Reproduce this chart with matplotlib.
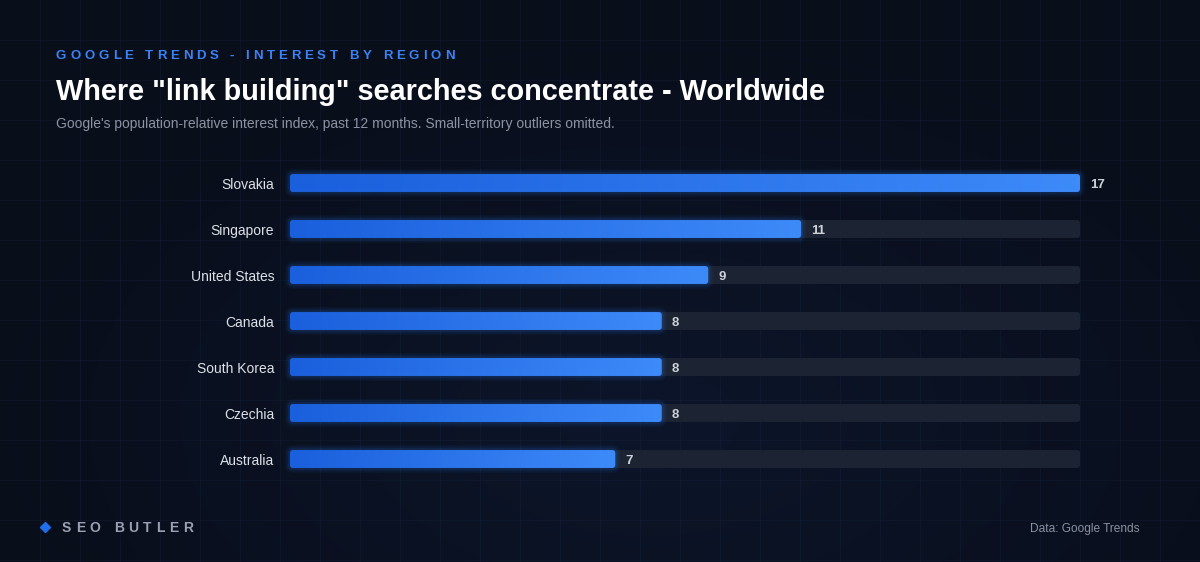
import matplotlib.pyplot as plt
import numpy as np
from matplotlib.patches import FancyBboxPatch
from matplotlib.colors import LinearSegmentedColormap

# data
regions = ["Slovakia", "Singapore", "United States", "Canada", "South Korea", "Czechia", "Australia"]
interest = [17, 11, 9, 8, 8, 8, 7]
max_val = 17

eyebrow = "GOOGLE TRENDS - INTEREST BY REGION"
title = 'Where "link building" searches concentrate - Worldwide'
subtitle = "Google's population-relative interest index, past 12 months. Small-territory outliers omitted."
brand = "SEO BUTLER"
source = "Data: Google Trends"

W, H = 1200, 562
fig = plt.figure(figsize=(W / 100, H / 100), dpi=100)
plt.rcParams['font.family'] = ['Liberation Sans', 'DejaVu Sans']

# background with faint glow and grid
bg = fig.add_axes([0, 0, 1, 1])
bg.set_xlim(0, W)
bg.set_ylim(H, 0)
bg.axis("off")
yy, xx = np.mgrid[0:H, 0:W]
d = np.sqrt(((xx - 650) / 650.0) ** 2 + ((yy - 420) / 380.0) ** 2)
glow = np.clip(1 - d, 0, 1)
base = np.array([0.035, 0.055, 0.105])
hi = np.array([0.05, 0.09, 0.18])
img = base + (hi - base) * glow[..., None] * 0.8
bg.imshow(img, extent=[0, W, H, 0], aspect="auto", zorder=0)
for gx in range(40, W, 40):
    bg.plot([gx, gx], [0, H], color="#1c2a44", lw=0.8, alpha=0.25, zorder=1)
for gy in range(40, H, 40):
    bg.plot([0, W], [gy, gy], color="#1c2a44", lw=0.8, alpha=0.25, zorder=1)


def spaced_text(ax, x, y, s, spacing, **kw):
    # draw text char by char with letter spacing (pixel coords)
    r = fig.canvas.get_renderer()
    for ch in s:
        t = ax.text(x, y, ch, va="center", ha="left", **kw)
        w = t.get_window_extent(renderer=r).width
        if ch == " ":
            w = kw.get("fontsize", 10) * 100 / 72 * 0.28
        x += w + spacing


spaced_text(bg, 56, 56, eyebrow, 3.85, fontsize=9.5, color="#3b82f6", fontweight="bold", zorder=5)
bg.text(56, 92, title, fontsize=20.8, color="white", fontweight="bold", va="center", ha="left", zorder=5)
bg.text(56, 124, subtitle, fontsize=10, color="#8c94a3", va="center", ha="left", zorder=5)

# footer
bg.plot([45], [527], marker="D", markersize=5, color="#1f6feb", zorder=5)
spaced_text(bg, 62, 528, brand, 4.6, fontsize=10, color="#9aa2b1", fontweight="bold", zorder=5)
bg.text(1140, 529, source, fontsize=8.6, color="#8a92a1", va="center", ha="right", zorder=5)

# bar chart axes: x 290..1080 px, rows centred 183..459 px
left, right = 290, 1080
top, bottom = 160, 482
ax = fig.add_axes([left / W, 1 - bottom / H, (right - left) / W, (bottom - top) / H])
ax.set_xlim(0, max_val)
ax.set_ylim(len(regions) - 0.5, -0.5)
ax.axis("off")
ax.patch.set_alpha(0)

cmap = LinearSegmentedColormap.from_list("bar", ["#1a5fdc", "#3d8af9"])
grad = np.linspace(0, 1, 256).reshape(1, -1)
bh = 0.39
rs = 0.07

for i, (name, v) in enumerate(zip(regions, interest)):
    # track
    track = FancyBboxPatch((0, i - bh / 2), max_val, bh,
                           boxstyle=f"round,pad=0,rounding_size={rs}",
                           mutation_aspect=1, fc="#1c2333", ec="none", zorder=1,
                           clip_on=False)
    ax.add_patch(track)
    # glow
    for k, a in [(0.22, 0.05), (0.15, 0.07), (0.08, 0.10)]:
        g = FancyBboxPatch((-k * 0.5, i - bh / 2 - k * 0.5), v + k, bh + k,
                           boxstyle=f"round,pad=0,rounding_size={rs + k * 0.5}",
                           mutation_aspect=1, fc="#2f7bf5", ec="none", alpha=a, zorder=2,
                           clip_on=False)
        ax.add_patch(g)
    bar = FancyBboxPatch((0, i - bh / 2), v, bh,
                         boxstyle=f"round,pad=0,rounding_size={rs}",
                         mutation_aspect=1, fc="none", ec="none", zorder=3)
    ax.add_patch(bar)
    im = ax.imshow(grad, extent=[0, v, i + bh / 2, i - bh / 2], cmap=cmap,
                   aspect="auto", zorder=3, interpolation="bilinear")
    im.set_clip_path(bar)
    ax.text(v + 0.22, i + 0.04, str(v), fontsize=9.5, fontweight="bold", color="#cdd2da",
            va="center", ha="left", zorder=4)
    ax.text(-0.34, i + 0.04, name, fontsize=10, color="#dde1e7", va="center", ha="right", zorder=4)

ax.set_xlim(0, max_val)
ax.set_ylim(len(regions) - 0.5, -0.5)

fig.savefig("out.png", dpi=100, facecolor="#0a0f1c")
